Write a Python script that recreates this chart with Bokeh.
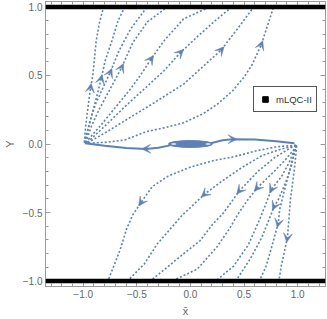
from bokeh.plotting import figure
from bokeh.models import (Range1d, LinearAxis, FixedTicker, Span, Arrow, VeeHead,
                          ColumnDataSource, Legend, LegendItem, CustomJSTickFormatter)
from bokeh.embed import file_html
from bokeh.resources import INLINE

# ---------------- data ----------------
# upper family: from (-1,0) up to Y=1
u1x = [-0.99, -0.977, -0.954, -0.932, -0.911, -0.879, -0.849, -0.81]
u1y = [0.01, 0.133, 0.279, 0.41, 0.497, 0.752, 0.884, 1.0]
u2x = [-0.986, -0.922, -0.877, -0.834, -0.795, -0.733, -0.676, -0.612]
u2y = [0.01, 0.206, 0.337, 0.473, 0.607, 0.752, 0.898, 1.0]
u3x = [-0.986, -0.94, -0.886, -0.822, -0.749, -0.667, -0.557, -0.405]
u3y = [0.01, 0.16, 0.29, 0.40, 0.521, 0.68, 0.84, 1.0]
u4x = [-0.977, -0.922, -0.849, -0.758, -0.642, -0.539, -0.402, -0.216]
u4y = [0.01, 0.133, 0.257, 0.388, 0.558, 0.738, 0.891, 1.0]
u5x = [-0.977, -0.84, -0.703, -0.566, -0.457, -0.368, -0.247, -0.064, 0.18]
u5y = [0.01, 0.133, 0.264, 0.395, 0.512, 0.619, 0.752, 0.913, 1.0]
u6x = [-0.962, -0.795, -0.612, -0.429, -0.247, -0.094, 0.073, 0.228, 0.386]
u6y = [0.012, 0.133, 0.272, 0.403, 0.534, 0.667, 0.789, 0.898, 1.0]
u7x = [-0.959, -0.795, -0.566, -0.338, -0.064, 0.073, 0.286, 0.438, 0.591]
u7y = [0.009, 0.082, 0.192, 0.301, 0.437, 0.534, 0.685, 0.840, 1.0]
u8x = [-0.986, -0.795, -0.612, -0.411, -0.201, -0.064, 0.119, 0.256, 0.393, 0.502, 0.575, 0.660, 0.721, 0.776]
u8y = [0.005, 0.012, 0.030, 0.090, 0.126, 0.155, 0.221, 0.294, 0.388, 0.490, 0.578, 0.723, 0.869, 1.0]

# lower family: from (1,0) down to Y=-1
d1x = [0.986, 0.804, 0.621, 0.411, 0.210, -0.018, -0.216, -0.356, -0.459, -0.536, -0.594, -0.658, -0.719, -0.770]
d1y = [-0.009, -0.020, -0.049, -0.092, -0.122, -0.173, -0.238, -0.311, -0.425, -0.515, -0.617, -0.777, -0.899, -1.0]
d2x = [0.986, 0.849, 0.667, 0.484, 0.301, 0.132, -0.079, -0.308, -0.429, -0.587]
d2y = [-0.012, -0.036, -0.085, -0.170, -0.267, -0.366, -0.522, -0.728, -0.874, -1.0]
d3x = [0.986, 0.941, 0.788, 0.637, 0.459, 0.301, 0.210, 0.089, -0.064, -0.216, -0.374]
d3y = [-0.012, -0.025, -0.098, -0.194, -0.340, -0.510, -0.583, -0.707, -0.801, -0.899, -1.0]
d4x = [0.986, 0.971, 0.879, 0.758, 0.623, 0.530, 0.447, 0.365, 0.247, 0.064, -0.171]
d4y = [-0.012, -0.036, -0.121, -0.218, -0.320, -0.413, -0.508, -0.617, -0.752, -0.913, -1.0]
d5x = [0.986, 0.922, 0.849, 0.758, 0.642, 0.539, 0.402, 0.235]
d5y = [-0.012, -0.133, -0.238, -0.329, -0.558, -0.738, -0.891, -1.0]
d6x = [0.986, 0.941, 0.886, 0.822, 0.783, 0.749, 0.667, 0.557, 0.423]
d6y = [-0.009, -0.162, -0.286, -0.403, -0.453, -0.521, -0.680, -0.840, -1.0]
d7x = [0.986, 0.922, 0.877, 0.834, 0.819, 0.758, 0.703, 0.642]
d7y = [-0.009, -0.206, -0.337, -0.473, -0.578, -0.752, -0.898, -1.0]
d8x = [0.991, 0.977, 0.954, 0.932, 0.918, 0.904, 0.879, 0.849, 0.825]
d8y = [-0.013, -0.133, -0.279, -0.410, -0.559, -0.685, -0.777, -0.883, -1.0]

# solid trajectory from the central spiral towards (+-1, 0)
left_x = [-0.19, -0.30, -0.414, -0.60, -0.80, -0.984]
left_y = [-0.010, -0.028, -0.036, -0.030, -0.012, 0.005]
right_x = [0.19, 0.30, 0.393, 0.60, 0.80, 0.97]
right_y = [0.005, 0.028, 0.035, 0.032, 0.020, 0.005]
spiral_x, spiral_y, spiral_w, spiral_h = [0.0], [0.0], [0.41], [0.05]
gap_x, gap_y, gap_w, gap_h = [-0.155, 0.164], [0.0, 0.0], [0.05, 0.05], [0.012, 0.012]

# arrow heads (tail -> tip)
arr_x0 = [-0.938, -0.844, -0.766, -0.660, -0.392, -0.123, 0.258, 0.645,
          -0.435, 0.163, 0.486, 0.651, 0.777, 0.801, 0.828, 0.910, -0.374, 0.352]
arr_y0 = [0.378, 0.441, 0.491, 0.529, 0.592, 0.644, 0.661, 0.693,
          -0.398, -0.345, -0.315, -0.296, -0.300, -0.424, -0.546, -0.653, -0.035, 0.035]
arr_x1 = [-0.926, -0.824, -0.732, -0.624, -0.345, -0.065, 0.314, 0.675,
          -0.483, 0.101, 0.432, 0.595, 0.739, 0.765, 0.810, 0.898, -0.454, 0.434]
arr_y1 = [0.442, 0.505, 0.551, 0.587, 0.646, 0.690, 0.709, 0.753,
          -0.452, -0.387, -0.365, -0.344, -0.358, -0.482, -0.610, -0.717, -0.036, 0.035]

bound_levels = [1.0, -1.0]
legend_label = "mLQC-II"
major_ticks = [-1.0, -0.5, 0.0, 0.5, 1.0]
x_minor = [-1.3, -1.2, -1.1, -1.0, -0.9, -0.8, -0.7, -0.6, -0.5, -0.4, -0.3, -0.2, -0.1,
           0.0, 0.1, 0.2, 0.3, 0.4, 0.5, 0.6, 0.7, 0.8, 0.9, 1.0, 1.1, 1.2]
y_minor = [-1.0, -0.9, -0.8, -0.7, -0.6, -0.5, -0.4, -0.3, -0.2, -0.1,
           0.0, 0.1, 0.2, 0.3, 0.4, 0.5, 0.6, 0.7, 0.8, 0.9, 1.0]

# ---------------- figure ----------------
BLUE = "#5E81B5"
FRAME = "#9a9a9a"
TXT = "#666666"
FONT = "Liberation Sans"

p = figure(width=327, height=319, x_range=Range1d(-1.352, 1.26), y_range=Range1d(-1.04, 1.04),
           output_backend="svg", toolbar_location=None,
           min_border_left=39, min_border_right=2, min_border_top=1, min_border_bottom=33)
p.grid.visible = False
p.outline_line_color = FRAME
p.background_fill_color = "white"
p.border_fill_color = "white"

fmt = CustomJSTickFormatter(code="return tick.toFixed(1).replace('-', '\u2212');")
blank_fmt = CustomJSTickFormatter(code="return '';")

def style(ax, ticks_minor, labels=True):
    ax.ticker = FixedTicker(ticks=major_ticks, minor_ticks=ticks_minor)
    ax.major_tick_in = 5
    ax.major_tick_out = 0
    ax.minor_tick_in = 3
    ax.minor_tick_out = 0
    ax.axis_line_color = FRAME
    ax.major_tick_line_color = FRAME
    ax.minor_tick_line_color = FRAME
    if labels:
        ax.formatter = fmt
        ax.major_label_text_font = FONT
        ax.major_label_text_font_size = "10px"
        ax.major_label_text_color = TXT
        ax.major_label_standoff = 3
        ax.axis_label_text_font = FONT
        ax.axis_label_text_font_size = "11px"
        ax.axis_label_text_font_style = "normal"
        ax.axis_label_text_color = TXT
        ax.axis_label_standoff = 4
    else:
        ax.formatter = blank_fmt
        ax.major_label_text_font_size = "0px"
        ax.major_label_standoff = 0
        ax.axis_label_standoff = 0
        ax.axis_label = None

style(p.xaxis[0], x_minor)
style(p.yaxis[0], y_minor)
p.xaxis[0].axis_label = "x\u0304"
p.yaxis[0].axis_label = "Y"

top = LinearAxis()
style(top, x_minor, labels=False)
p.add_layout(top, "above")
right = LinearAxis()
style(right, y_minor, labels=False)
p.add_layout(right, "right")

# boundaries Y = +-1
for lv in bound_levels:
    p.add_layout(Span(location=lv, dimension="width", line_color="black", line_width=4.5))

# dotted trajectories
curves = [(u1x, u1y), (u2x, u2y), (u3x, u3y), (u4x, u4y), (u5x, u5y), (u6x, u6y), (u7x, u7y), (u8x, u8y),
          (d1x, d1y), (d2x, d2y), (d3x, d3y), (d4x, d4y), (d5x, d5y), (d6x, d6y), (d7x, d7y), (d8x, d8y)]
for cx, cy in curves:
    p.line(cx, cy, line_color=BLUE, line_width=1.6, line_dash="2 2")

# solid trajectory and spiral
p.line(left_x, left_y, line_color=BLUE, line_width=2)
p.line(right_x, right_y, line_color=BLUE, line_width=2)
p.ellipse(x=spiral_x, y=spiral_y, width=spiral_w, height=spiral_h,
          fill_color=BLUE, line_color=BLUE, line_width=1)
p.ellipse(x=gap_x, y=gap_y, width=gap_w, height=gap_h, fill_color="white", line_color=None)

# arrow heads
asrc = ColumnDataSource(dict(x0=arr_x0, y0=arr_y0, x1=arr_x1, y1=arr_y1))
p.add_layout(Arrow(end=VeeHead(size=9, fill_color=BLUE, line_color=BLUE, line_width=0.5),
                   x_start="x0", y_start="y0", x_end="x1", y_end="y1",
                   source=asrc, line_alpha=0))

# legend (proxy glyph placed outside the visible ranges)
legend_proxy_x, legend_proxy_y = [9.0], [9.0]
r = p.scatter(x=legend_proxy_x, y=legend_proxy_y, marker="square", size=7, color="black")
leg = Legend(items=[LegendItem(label=legend_label, renderers=[r])], location=(208, 174),
             orientation="vertical", padding=4, margin=0, spacing=0,
             glyph_width=14, glyph_height=16, label_standoff=4,
             label_text_font=FONT, label_text_font_size="9.5px", label_text_color="#333333",
             label_height=16, border_line_color="#555555", border_line_width=1,
             border_line_alpha=1,
             background_fill_color="white", background_fill_alpha=1)
p.add_layout(leg)

open("out.html", "w").write(file_html(p, INLINE))
